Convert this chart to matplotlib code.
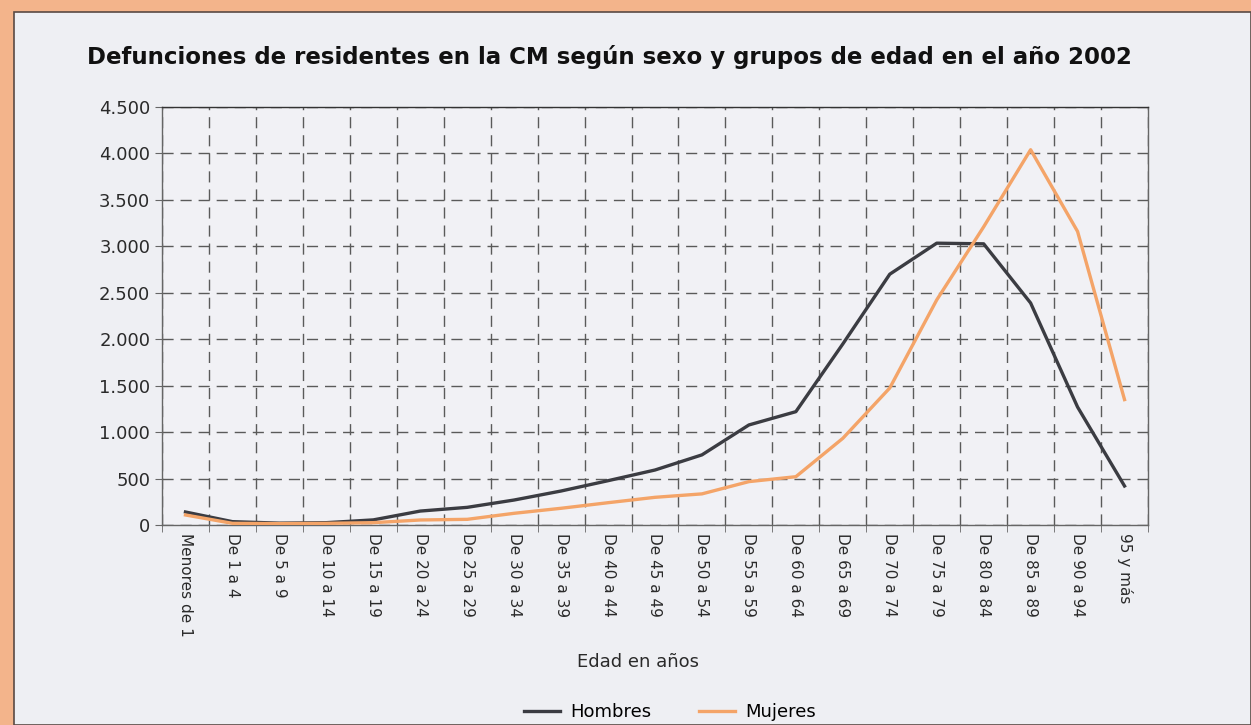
import matplotlib
matplotlib.use("Agg")
import matplotlib.pyplot as plt
import matplotlib.ticker as mtick
from matplotlib.patches import Rectangle
import numpy as np

plt.rcParams['font.family'] = ['Liberation Sans', 'DejaVu Sans']

# age groups and deaths (CM, 2002)
grupos = ["Menores de 1", "De 1 a 4", "De 5 a 9", "De 10 a 14", "De 15 a 19",
          "De 20 a 24", "De 25 a 29", "De 30 a 34", "De 35 a 39", "De 40 a 44",
          "De 45 a 49", "De 50 a 54", "De 55 a 59", "De 60 a 64", "De 65 a 69",
          "De 70 a 74", "De 75 a 79", "De 80 a 84", "De 85 a 89", "De 90 a 94",
          "95 y más"]
hombres = [140, 36, 20, 25, 55, 150, 190, 269, 366, 477, 592, 755, 1077, 1220,
           1949, 2700, 3034, 3027, 2390, 1270, 420]
mujeres = [108, 18, 15, 18, 25, 54, 61, 126, 180, 240, 298, 335, 467, 520,
           933, 1475, 2423, 3210, 4040, 3160, 1350]

fig = plt.figure(figsize=(12.51, 7.25), dpi=100)
fig.patch.set_facecolor('#f3b48b')
# inner light panel
fig.patches.append(Rectangle((14 / 1251, 0), 1 - 14 / 1251, 1 - 12 / 725,
                             transform=fig.transFigure, facecolor='#eeeff3',
                             edgecolor='#5a4a44', linewidth=1.2, zorder=-5))

ax = fig.add_axes([162 / 1251, 1 - 525 / 725, (1148 - 162) / 1251, (525 - 107) / 725])
ax.set_facecolor('#f1f1f5')

x = np.arange(len(grupos))
ax.plot(x, hombres, color='#3b3c42', lw=2.4, label='Hombres', zorder=3)
ax.plot(x, mujeres, color='#f4a468', lw=2.4, label='Mujeres', zorder=3)

ax.set_xlim(-0.5, len(grupos) - 0.5)
ax.set_ylim(0, 4500)
ax.yaxis.set_major_locator(mtick.MultipleLocator(500))
ax.yaxis.set_major_formatter(mtick.FuncFormatter(lambda v, p: f"{int(v):,}".replace(",", ".")))

ax.set_xticks(x)
ax.set_xticklabels(grupos, rotation=270, fontsize=11, color='#2a2a2a',
                   family='DejaVu Sans')
ax.set_xticks(np.arange(-0.5, len(grupos)), minor=True)
ax.tick_params(axis='x', which='major', length=0, pad=6)
ax.tick_params(axis='x', which='minor', length=5, color='#666666')
ax.tick_params(axis='y', labelsize=13, colors='#2a2a2a', length=5)
ax.tick_params(axis='y', color='#666666')
for lab in ax.get_yticklabels():
    lab.set_family('DejaVu Sans')

ax.grid(False)
ax.yaxis.grid(True, which='major', linestyle=(0, (8, 5)), color='#5a5a5a', lw=1.0)
ax.xaxis.grid(True, which='minor', linestyle=(0, (8, 5)), color='#5a5a5a', lw=1.0)
ax.set_axisbelow(True)

for side in ['left', 'bottom', 'right', 'top']:
    ax.spines[side].set_color('#666666')
    ax.spines[side].set_linewidth(1.0)
ax.spines['top'].set_color('#333333')

fig.text(87 / 1251, 1 - 57 / 725,
         "Defunciones de residentes en la CM según sexo y grupos de edad en el año 2002",
         fontsize=16.5, fontweight='bold', color='#111111', va='center', ha='left',
         family='DejaVu Sans')
fig.text(638 / 1251, 1 - 662 / 725, "Edad en años", fontsize=13,
         color='#2a2a2a', ha='center', va='center', family='DejaVu Sans')

fig.legend(loc='center', bbox_to_anchor=(670 / 1251, 1 - 712 / 725), ncol=2,
           frameon=False, prop={'family': 'DejaVu Sans', 'size': 13},
           handlelength=2.0, handletextpad=0.6, columnspacing=2.6)

fig.savefig("out.png", dpi=100, facecolor=fig.get_facecolor())
